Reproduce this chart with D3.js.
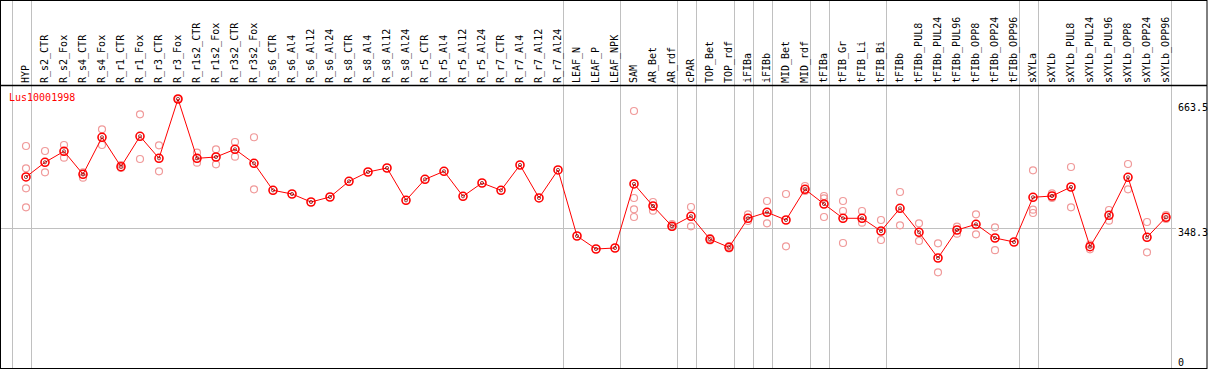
<!DOCTYPE html>
<html>
<head>
<meta charset="utf-8">
<script src="https://cdn.jsdelivr.net/npm/d3@7"></script>
<style>
  body { margin: 0; background: #fff; }
  svg { display: block; }
  text { font-family: "DejaVu Sans Mono", monospace; font-size: 10px; }
</style>
</head>
<body>
<div id="chart"></div>
<script>
const geneName = 'Lus10001998';

const categories = [
  'HYP', 'R_s2_CTR', 'R_s2_Fox', 'R_s4_CTR', 'R_s4_Fox', 'R_r1_CTR', 'R_r1_Fox',
  'R_r3_CTR', 'R_r3_Fox', 'R_r1s2_CTR', 'R_r1s2_Fox', 'R_r3s2_CTR', 'R_r3s2_Fox',
  'R_s6_CTR', 'R_s6_Al4', 'R_s6_Al12', 'R_s6_Al24', 'R_s8_CTR', 'R_s8_Al4',
  'R_s8_Al12', 'R_s8_Al24', 'R_r5_CTR', 'R_r5_Al4', 'R_r5_Al12', 'R_r5_Al24',
  'R_r7_CTR', 'R_r7_Al4', 'R_r7_Al12', 'R_r7_Al24', 'LEAF_N', 'LEAF_P', 'LEAF_NPK',
  'SAM', 'AR_Bet', 'AR_rdf', 'cPAR', 'TOP_Bet', 'TOP_rdf', 'iFIBa', 'iFIBb',
  'MID_Bet', 'MID_rdf', 'tFIBa', 'tFIB_Gr', 'tFIB_Li', 'tFIB_Bi', 'tFIBb',
  'tFIBb_PUL8', 'tFIBb_PUL24', 'tFIBb_PUL96', 'tFIBb_OPP8', 'tFIBb_OPP24', 'tFIBb_OPP96',
  'sXYLa', 'sXYLb', 'sXYLb_PUL8', 'sXYLb_PUL24', 'sXYLb_PUL96', 'sXYLb_OPP8',
  'sXYLb_OPP24', 'sXYLb_OPP96'
];

// mean expression per sample
const meanValues = [
  473.0, 508.9, 535.7, 479.6, 570.0, 498.1, 572.4,
  518.6, 663.5, 518.6, 521.8, 540.6, 506.4,
  440.5, 431.4, 411.9, 424.1, 462.5, 485.2,
  494.9, 416.0, 467.3, 486.9, 425.8, 458.3,
  440.5, 502.3, 421.7, 490.1, 328.8, 297.1, 299.5,
  455.9, 402.1, 352.5, 377.0, 320.8, 301.2, 372.1, 386.7,
  367.9, 442.9, 407.0, 372.1, 372.1, 341.0, 396.5,
  337.9, 275.1, 343.5, 357.4, 323.9, 314.2,
  423.4, 426.5, 448.5, 302.7, 379.4, 472.2,
  325.7, 374.5
];

// individual replicates per sample (same order as categories)
const replicateValues = [
  [548.7, 494.2, 445.4, 398.9], [536.5, 484.4], [551.1, 520.1], [484.4, 471.3], [589.5, 551.1],
  [502.3, 494.9], [626.1, 516.9], [550.4, 486.9], [663.5, 663.5], [532.3, 507.9],
  [540.6, 504.0], [558.5, 522.6], [570.0, 442.9],
  [], [], [], [], [], [], [], [], [], [], [], [], [], [], [], [], [], [], [],
  [634.2, 421.7, 394.1, 375.2], [411.9, 390.6], [358.1, 350.8], [399.7, 352.5],
  [323.9, 317.8], [304.4, 298.3], [381.8, 365.5], [414.3, 359.9],
  [431.4, 303.7], [451.0, 438.8], [426.5, 420.9, 375.2], [414.3, 389.9, 311.7],
  [389.9, 361.3], [367.9, 319.1], [436.3, 355.0],
  [359.9, 316.6], [311.0, 240.1], [351.5, 334.4], [381.8, 333.0], [350.1, 294.2], [],
  [489.3, 393.1, 385.0], [433.1, 421.7], [497.4, 398.9], [296.3, 307.6],
  [392.3, 366.2], [504.7, 442.9], [363.0, 289.0], [380.1, 370.3]
];

// last sample of each group; a separator is drawn after each
const groupEnds = ['HYP', 'R_r7_Al24', 'LEAF_NPK', 'AR_rdf', 'cPAR', 'TOP_rdf', 'iFIBa',
  'iFIBb', 'MID_rdf', 'tFIBa', 'tFIB_Bi', 'tFIBb_OPP96', 'sXYLa', 'sXYLb_OPP96'];

const axisMax = 663.5;
const refValue = 348.3;
const axisLabels = ['663.5', '348.3', '0'];

const width = 1209;
const height = 370;

const x = d3.scalePoint()
  .domain(categories)
  .range([26, 1166]);
const step = x.step();

const y = d3.scaleLinear()
  .domain([0, axisMax])
  .range([370.6, 99]);

const svg = d3.select('#chart')
  .append('svg')
  .attr('width', width)
  .attr('height', height);

// vertical group separators
const sepX = [x(categories[0]) - step + 4.5].concat(groupEnds.map(c => x(c) + 4.5));
svg.selectAll('line.sep')
  .data(sepX)
  .join('line')
  .attr('class', 'sep')
  .attr('x1', d => Math.round(d) + 0.5)
  .attr('x2', d => Math.round(d) + 0.5)
  .attr('y1', 0)
  .attr('y2', 368)
  .style('stroke', '#c0c0c0')
  .style('stroke-width', 1);

// reference line
svg.append('line')
  .attr('x1', 0)
  .attr('x2', 1176)
  .attr('y1', Math.round(y(refValue)) + 0.5)
  .attr('y2', Math.round(y(refValue)) + 0.5)
  .style('stroke', '#c0c0c0')
  .style('stroke-width', 1);

// frame
svg.append('rect')
  .attr('x', 0.5)
  .attr('y', 0.5)
  .attr('width', 1206.5)
  .attr('height', 368)
  .style('fill', 'none')
  .style('stroke', '#000')
  .style('stroke-width', 1);

svg.append('line')
  .attr('x1', 0)
  .attr('x2', 1207)
  .attr('y1', 85.5)
  .attr('y2', 85.5)
  .style('stroke', '#000')
  .style('stroke-width', 1.5);

// sample labels
svg.selectAll('text.cat')
  .data(categories)
  .join('text')
  .attr('class', 'cat')
  .attr('transform', d => `translate(${x(d) + 3},83) rotate(-90)`)
  .attr('text-anchor', 'start')
  .style('fill', '#000')
  .text(d => d);

// right-hand value labels
svg.selectAll('text.val')
  .data(axisLabels)
  .join('text')
  .attr('class', 'val')
  .attr('x', 1178)
  .attr('y', (d, i) => [110.5, 235.5, 365.5][i])
  .style('fill', '#000')
  .text(d => d);

svg.append('text')
  .attr('x', 9)
  .attr('y', 100.5)
  .style('fill', '#ff0000')
  .text(geneName);

// replicate circles
const reps = [];
replicateValues.forEach((vals, i) => vals.forEach(v => reps.push({ cat: categories[i], v })));

svg.selectAll('circle.rep')
  .data(reps)
  .join('circle')
  .attr('class', 'rep')
  .attr('cx', d => x(d.cat))
  .attr('cy', d => y(d.v))
  .attr('r', 3.5)
  .style('fill', 'none')
  .style('stroke', '#f09a9a')
  .style('stroke-width', 1.2);

// mean line
const means = categories.map((c, i) => ({ cat: c, v: meanValues[i] }));

const line = d3.line()
  .x(d => x(d.cat))
  .y(d => y(d.v));

svg.append('path')
  .datum(means)
  .attr('d', line)
  .style('fill', 'none')
  .style('stroke', '#ff0000')
  .style('stroke-width', 1);

svg.selectAll('circle.mean')
  .data(means)
  .join('circle')
  .attr('class', 'mean')
  .attr('cx', d => x(d.cat))
  .attr('cy', d => y(d.v))
  .attr('r', 4)
  .style('fill', 'none')
  .style('stroke', '#ff0000')
  .style('stroke-width', 1.6);

svg.selectAll('circle.meanin')
  .data(means)
  .join('circle')
  .attr('class', 'meanin')
  .attr('cx', d => x(d.cat))
  .attr('cy', d => y(d.v))
  .attr('r', 1.6)
  .style('fill', 'none')
  .style('stroke', '#700000')
  .style('stroke-width', 0.7);
</script>
</body>
</html>
